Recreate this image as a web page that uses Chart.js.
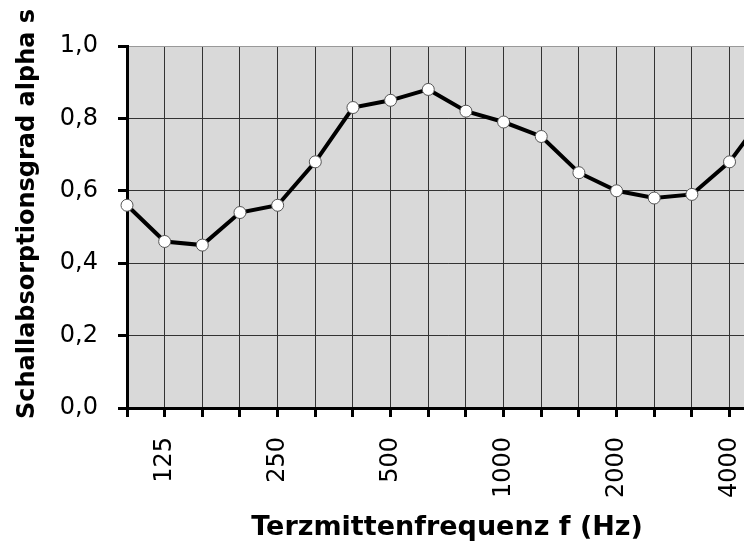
<!DOCTYPE html>
<html>
<head>
<meta charset="utf-8">
<script src="https://cdn.jsdelivr.net/npm/chart.js@4/dist/chart.umd.min.js"></script>
<style>
  html, body { margin: 0; padding: 0; background: #fff; overflow: hidden; }
  #absorptionChart { display: block; }
</style>
</head>
<body>
<canvas id="absorptionChart" width="816" height="543"></canvas>
<script>
// third-octave centre frequencies (Hz)
const frequencies = ['100', '125', '160', '200', '250', '315', '400', '500', '630',
  '800', '1000', '1250', '1600', '2000', '2500', '3150', '4000', '5000'];
// sound absorption coefficient
const alphaValues = [0.56, 0.46, 0.45, 0.54, 0.56, 0.68, 0.83, 0.85, 0.88,
  0.82, 0.79, 0.75, 0.65, 0.60, 0.58, 0.59, 0.68, 0.82];
// only these frequencies carry a label on the x axis
const labelledFrequencies = ['125', '250', '500', '1000', '2000', '4000'];
const yTicks = [0, 0.2, 0.4, 0.6, 0.8, 1.0];

const xTitle = 'Terzmittenfrequenz f (Hz)';
const yTitle = 'Schallabsorptionsgrad alpha s';

const FONT = '"DejaVu Sans", Verdana, sans-serif';

// grey plot background + axis titles
const plotDecor = {
  id: 'plotDecor',
  beforeDraw(chart) {
    const { ctx, chartArea: a } = chart;
    ctx.save();
    ctx.fillStyle = '#d9d9d9';
    ctx.fillRect(a.left, a.top, a.right - a.left, a.bottom - a.top);
    ctx.restore();
  },
  afterDraw(chart) {
    const { ctx, chartArea: a } = chart;
    ctx.save();
    ctx.fillStyle = '#000';
    ctx.textAlign = 'center';
    ctx.textBaseline = 'alphabetic';
    ctx.font = 'bold 27px ' + FONT;
    ctx.fillText(xTitle, (a.left + a.right) / 2, 535);
    ctx.font = 'bold 24px ' + FONT;
    ctx.translate(34, 214);
    ctx.rotate(-Math.PI / 2);
    ctx.fillText(yTitle, 0, 0);
    ctx.restore();
  }
};

new Chart(document.getElementById('absorptionChart'), {
  type: 'line',
  data: {
    labels: frequencies,
    datasets: [{
      data: alphaValues,
      borderColor: '#000',
      borderWidth: 4,
      tension: 0,
      pointRadius: 6,
      pointBackgroundColor: '#fff',
      pointBorderColor: '#555',
      pointBorderWidth: 1,
      clip: false
    }]
  },
  options: {
    responsive: false,
    animation: false,
    layout: { padding: { top: 46, right: 23, left: 0, bottom: 0 } },
    plugins: {
      legend: { display: false },
      tooltip: { enabled: false }
    },
    scales: {
      x: {
        offset: false,
        afterFit(scale) { scale.height = 135; },
        border: { color: '#000', width: 3 },
        grid: {
          color: '#333',
          lineWidth: 1,
          tickLength: 9,
          tickWidth: 3,
          tickColor: '#000'
        },
        ticks: {
          autoSkip: false,
          minRotation: 90,
          maxRotation: 90,
          padding: 20,
          color: '#000',
          font: { family: FONT, size: 24 },
          callback(value) {
            const lbl = this.getLabelForValue(value);
            return labelledFrequencies.includes(lbl) ? lbl : '';
          }
        }
      },
      y: {
        min: 0,
        max: 1,
        afterFit(scale) { scale.width = 127; },
        afterBuildTicks(scale) { scale.ticks = yTicks.map(v => ({ value: v })); },
        border: { color: '#000', width: 3 },
        grid: {
          color: ctx => ctx.tick && ctx.tick.value === 1 ? '#999' : '#333',
          lineWidth: 1,
          tickLength: 9,
          tickWidth: 3,
          tickColor: '#000'
        },
        ticks: {
          padding: 20,
          color: '#000',
          font: { family: FONT, size: 24 },
          callback: v => v.toFixed(1).replace('.', ',')
        }
      }
    }
  },
  plugins: [plotDecor]
});
</script>
</body>
</html>
